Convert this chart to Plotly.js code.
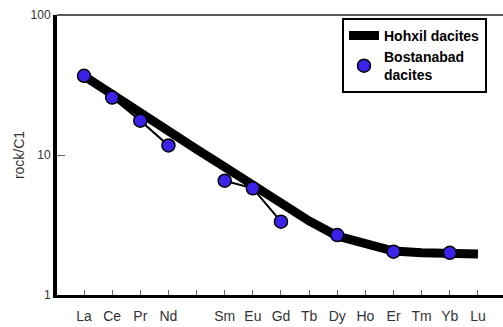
<!DOCTYPE html>
<html>
<head>
<meta charset="utf-8">
<script src="https://cdn.plot.ly/plotly-3.0.1.min.js"></script>
<style>html,body{margin:0;padding:0;background:#fff;}#chart{width:503px;height:327px;}</style>
</head>
<body>
<div id="chart"></div>
<script>
// REE positions (Pm has a tick but no label)
const tickLabels = ['La','Ce','Pr','Nd','','Sm','Eu','Gd','Tb','Dy','Ho','Er','Tm','Yb','Lu'];
const positions = [0,1,2,3,4,5,6,7,8,9,10,11,12,13,14];
// Chondrite-normalised values
const hohxil = [36.7, 26.9, 20.4, 14.9, 11.0, 8.2, 6.1, 4.54, 3.38, 2.64, 2.31, 2.06, 2.0, 1.96, 1.96];
const bostanabad = [36.8, 25.7, 17.6, 11.7, null, 6.55, 5.78, 3.34, null, 2.68, null, 2.04, null, 2.0, null];

const traces = [
  {x: positions, y: hohxil, type: 'scatter', mode: 'lines', name: 'Hohxil dacites',
   line: {color: '#000', width: 9}, connectgaps: true},
  {x: positions, y: bostanabad, type: 'scatter', mode: 'lines', showlegend: false,
   line: {color: '#000', width: 2}, connectgaps: false, hoverinfo: 'skip'},
  {x: positions, y: bostanabad, type: 'scatter', mode: 'markers', name: 'Bostanabad<br>dacites',
   marker: {color: '#3c22e8', size: 13, line: {color: '#000', width: 1.5}}}
];

const layout = {
  width: 503, height: 327,
  margin: {l: 57, r: 0, t: 15, b: 32},
  paper_bgcolor: '#fff', plot_bgcolor: '#fff',
  font: {family: 'Liberation Sans, Arial, sans-serif', color: '#333'},
  showlegend: true,
  legend: {x: 0.639, y: 0.99, xanchor: 'left', yanchor: 'top',
    bordercolor: '#000', borderwidth: 2, bgcolor: '#fff',
    font: {family: 'Liberation Sans, Arial, sans-serif', size: 14, color: '#000', weight: 'bold'},
    tracegroupgap: 0},
  xaxis: {
    range: [-0.96, 14.89], showgrid: false, zeroline: false,
    tickmode: 'array', tickvals: positions, ticktext: tickLabels,
    ticks: 'inside', ticklen: 5, tickwidth: 1, tickcolor: '#666',
    showline: true, linecolor: '#000', linewidth: 3,
    tickfont: {size: 14, color: '#333'}, ticklabelstandoff: 6
  },
  yaxis: {
    type: 'log', range: [0, 2], showgrid: false, zeroline: false,
    tickmode: 'array', tickvals: [1, 10, 100], ticktext: ['1', '10', '100'],
    ticks: 'inside', ticklen: 8, tickwidth: 1, tickcolor: '#666',
    showline: true, linecolor: '#000', linewidth: 4,
    tickfont: {size: 12, color: '#333'},
    title: {text: 'rock/C1', font: {size: 14, color: '#333'}, standoff: 4}
  },
  shapes: [
    {type: 'line', xref: 'paper', yref: 'paper', x0: 0, x1: 1, y0: 1, y1: 1,
     line: {color: '#222', width: 1.5}}
  ]
};

Plotly.newPlot('chart', traces, layout, {staticPlot: true, displayModeBar: false});
</script>
</body>
</html>
